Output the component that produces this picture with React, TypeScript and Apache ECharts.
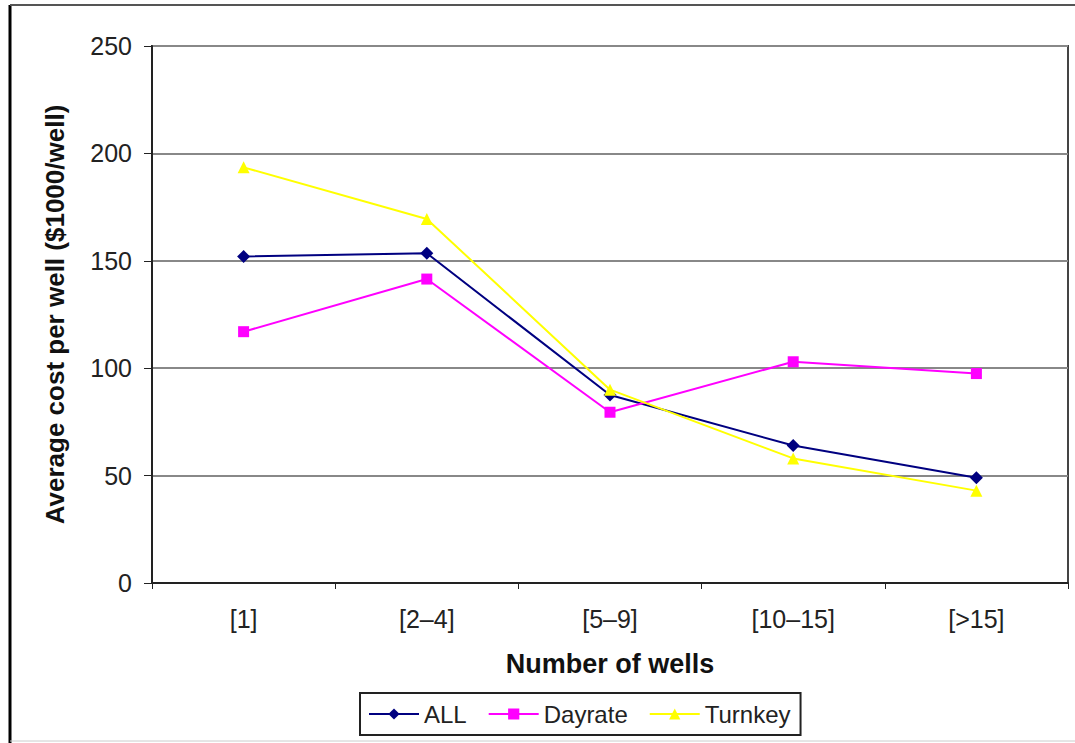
import React, { useEffect, useRef } from "react";
import * as echarts from "echarts";

// Well-count buckets along the x axis
const categories = ["[1]", "[2–4]", "[5–9]", "[10–15]", "[>15]"];

// Average cost per well, $1000/well
const allWells = [152, 153.5, 87.5, 64, 49];
const dayrate = [117, 141.5, 79.5, 103, 97.5];
const turnkey = [193.5, 169.5, 90, 58, 43];

const yTicks = { min: 0, max: 250, interval: 50 };

const FONT = "'Liberation Sans', Arial, sans-serif";

export default function App() {
  const ref = useRef<HTMLDivElement>(null);

  useEffect(() => {
    if (!ref.current) return;
    const chart = echarts.init(ref.current, null, { renderer: "svg" });

    const lineSeries = (
      name: string,
      data: number[],
      color: string,
      symbol: string,
      symbolSize: number
    ) => ({
      name,
      type: "line",
      data,
      symbol,
      symbolSize,
      showAllSymbol: true,
      itemStyle: { color, borderWidth: 0 },
      lineStyle: { color, width: 2 },
      emphasis: { disabled: true },
    });

    chart.setOption({
      animation: false,
      backgroundColor: "#ffffff",
      textStyle: { fontFamily: FONT },
      grid: {
        left: 152,
        top: 46,
        right: 7,
        bottom: 160,
        show: true,
        borderColor: "#444",
        borderWidth: 2,
        backgroundColor: "transparent",
      },
      xAxis: {
        type: "category",
        data: categories,
        boundaryGap: true,
        name: "Number of wells",
        nameLocation: "middle",
        nameGap: 67,
        nameTextStyle: { fontSize: 27, fontWeight: "bold", color: "#111", fontFamily: FONT },
        axisLine: { show: true, lineStyle: { color: "#222", width: 2 } },
        axisTick: { show: true, length: 6, lineStyle: { color: "#222", width: 1 } },
        axisLabel: { fontSize: 25, color: "#222", margin: 23, fontFamily: FONT },
        splitLine: { show: false },
      },
      yAxis: {
        type: "value",
        min: yTicks.min,
        max: yTicks.max,
        interval: yTicks.interval,
        name: "Average cost per well ($1000/well)",
        nameLocation: "middle",
        nameGap: 84,
        nameTextStyle: { fontSize: 26, fontWeight: "bold", color: "#111", fontFamily: FONT },
        axisLine: { show: true, lineStyle: { color: "#222", width: 2 } },
        axisTick: { show: true, inside: false, length: 8, lineStyle: { color: "#222", width: 1 } },
        axisLabel: { fontSize: 25, color: "#222", margin: 20, fontFamily: FONT },
        splitLine: { show: true, lineStyle: { color: "#888", width: 2 } },
      },
      legend: {
        left: 360,
        top: 693,
        orient: "horizontal",
        itemWidth: 50,
        itemHeight: 14,
        itemGap: 21,
        padding: [9, 10, 9, 8],
        borderColor: "#222",
        borderWidth: 2,
        backgroundColor: "#fff",
        textStyle: { fontSize: 24, color: "#222", fontFamily: FONT },
        selectedMode: false,
        data: ["ALL", "Dayrate", "Turnkey"],
      },
      graphic: [
        {
          type: "line",
          shape: { x1: 10, y1: 5, x2: 10, y2: 743 },
          style: { stroke: "#000", lineWidth: 3 },
          silent: true,
        },
        {
          type: "line",
          shape: { x1: 10, y1: 5, x2: 1075, y2: 5 },
          style: { stroke: "#555", lineWidth: 2 },
          silent: true,
        },
        {
          type: "line",
          shape: { x1: 10, y1: 741, x2: 1075, y2: 741 },
          style: { stroke: "#ccc", lineWidth: 1 },
          silent: true,
        },
      ],
      series: [
        lineSeries("ALL", allWells, "#000080", "diamond", 13),
        lineSeries("Dayrate", dayrate, "#ff00ff", "rect", 11),
        lineSeries("Turnkey", turnkey, "#ffff00", "triangle", 12),
      ],
    });

    return () => chart.dispose();
  }, []);

  return (
    <div
      ref={ref}
      style={{ position: "fixed", left: 0, top: 0, width: 1075, height: 743 }}
    />
  );
}
